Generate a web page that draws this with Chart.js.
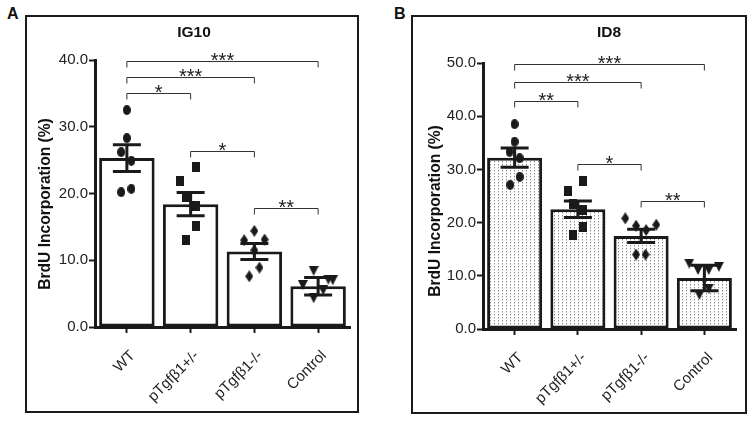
<!DOCTYPE html>
<html>
<head>
<meta charset="utf-8">
<script src="https://cdn.jsdelivr.net/npm/chart.js@4.4.1/dist/chart.umd.min.js"></script>
<style>
  body { margin: 0; background: #fff; width: 754px; height: 421px; position: relative; overflow: hidden; font-family: "Liberation Sans", Arial, sans-serif; }
  canvas { position: absolute; }
  .frame { position: absolute; border: 2px solid #1a1a1a; box-sizing: border-box; pointer-events: none; }
  .letter { position: absolute; font-weight: bold; font-size: 16px; line-height: 16px; color: #111; }
</style>
</head>
<body>
<div class="letter" style="left:7px;top:6px">A</div>
<div class="letter" style="left:394px;top:6px">B</div>
<canvas id="chartA" width="332" height="396" style="left:26px;top:16px"></canvas>
<canvas id="chartB" width="334" height="397" style="left:412px;top:16px"></canvas>
<div class="frame" style="left:25px;top:15px;width:334px;height:398px"></div>
<div class="frame" style="left:411px;top:15px;width:336px;height:399px"></div>
<script>
const categories = ["WT", "pTgfβ1+/-", "pTgfβ1-/-", "Control"];

// ---- IG10 (panel A) ----
const meanIG10 = [25.3, 18.4, 11.3, 6.1];
const semIG10 = [2.0, 1.75, 1.2, 1.3];
const wtIG10 = [32.5, 28.3, 26.2, 24.9, 20.2, 20.7];
const hetIG10 = [23.9, 21.9, 19.5, 18.1, 15.1, 13.1];
const koIG10 = [14.4, 13.0, 13.1, 11.5, 8.9, 7.6];
const ctrlIG10 = [8.4, 7.1, 7.0, 6.3, 4.3, 5.5];
const jitterIG10 = [
  [0, 0, -0.09, 0.07, -0.09, 0.07],
  [0.08, -0.16, -0.08, 0.08, 0.08, -0.08],
  [0, -0.16, 0.16, 0, 0.08, -0.08],
  [-0.07, 0.16, 0.23, -0.24, -0.07, 0.08]
];
const sigPairsIG10 = [[0, 3], [0, 2], [0, 1], [1, 2], [2, 3]];
const sigHeightIG10 = [39.9, 37.4, 35.0, 26.3, 17.9];
const sigLabelIG10 = ["***", "***", "*", "*", "**"];

// ---- ID8 (panel B) ----
const meanID8 = [32.2, 22.5, 17.5, 9.6];
const semID8 = [1.8, 1.55, 1.25, 2.4];
const wtID8 = [38.5, 35.2, 33.3, 32.1, 28.6, 27.1];
const hetID8 = [27.8, 26.0, 23.5, 22.4, 19.2, 17.7];
const koID8 = [20.8, 19.4, 18.6, 19.6, 14.0, 14.0];
const ctrlID8 = [12.3, 11.1, 11.1, 11.7, 6.4, 7.6];
const jitterID8 = [
  [0, 0, -0.08, 0.08, 0.08, -0.07],
  [0.08, -0.16, -0.08, 0.08, 0.08, -0.08],
  [-0.25, -0.08, 0.08, 0.24, -0.08, 0.07],
  [-0.24, -0.1, 0.07, 0.23, -0.08, 0.07]
];
const sigPairsID8 = [[0, 3], [0, 2], [0, 1], [1, 2], [2, 3]];
const sigHeightID8 = [49.8, 46.5, 42.9, 31.1, 24.1];
const sigLabelID8 = ["***", "***", "**", "*", "**"];

const yTitle = "BrdU Incorporation (%)";
const ink = "#1a1a1a";
const fontFamily = "'Liberation Sans', Arial, sans-serif";

// small canvases used as point markers
function makeMarker(shape, w, h) {
  const c = document.createElement("canvas");
  c.width = w; c.height = h;
  const g = c.getContext("2d");
  g.fillStyle = ink;
  g.beginPath();
  if (shape === "circle") {
    g.ellipse(w / 2, h / 2, w / 2, h / 2, 0, 0, Math.PI * 2);
  } else if (shape === "square") {
    g.rect(0, 0, w, h);
  } else if (shape === "diamond") {
    g.moveTo(w / 2, 0); g.lineTo(w, h / 2); g.lineTo(w / 2, h); g.lineTo(0, h / 2);
  } else {
    g.moveTo(0, 0); g.lineTo(w, 0); g.lineTo(w / 2, h);
  }
  g.closePath();
  g.fill();
  return c;
}
const markers = [
  makeMarker("circle", 8, 10),
  makeMarker("square", 8, 10),
  makeMarker("diamond", 8, 12),
  makeMarker("triangle", 10, 10)
];

// dotted fill used by the ID8 bars
function dotPattern() {
  const c = document.createElement("canvas");
  c.width = 4; c.height = 3;
  const g = c.getContext("2d");
  g.fillStyle = "#fff";
  g.fillRect(0, 0, 4, 3);
  g.fillStyle = "#8a8a8a";
  g.fillRect(2, 1, 1, 1);
  g.fillStyle = "#cfcfcf";
  g.fillRect(2, 2, 1, 1);
  return g.createPattern(c, "repeat");
}

// error bars, brackets, panel title and y title
function overlay(mean, sem, pairs, heights, labels, o) {
  return {
    id: "overlay",
    afterDatasetsDraw(chart) {
      const ctx = chart.ctx;
      const x = chart.scales.x, y = chart.scales.y;
      ctx.save();
      ctx.strokeStyle = ink;
      ctx.lineWidth = 3;
      mean.forEach((m, i) => {
        const cx = x.getPixelForValue(i);
        const top = y.getPixelForValue(m + sem[i]);
        const bot = y.getPixelForValue(m - sem[i]);
        ctx.beginPath();
        ctx.moveTo(cx, top); ctx.lineTo(cx, bot);
        ctx.moveTo(cx - 14, top); ctx.lineTo(cx + 14, top);
        ctx.moveTo(cx - 14, bot); ctx.lineTo(cx + 14, bot);
        ctx.stroke();
      });
      ctx.lineWidth = 1;
      ctx.strokeStyle = "#333";
      ctx.fillStyle = "#222";
      ctx.font = "20px " + fontFamily;
      ctx.textAlign = "center";
      ctx.textBaseline = "alphabetic";
      pairs.forEach((p, k) => {
        const x1 = x.getPixelForValue(p[0]);
        const x2 = x.getPixelForValue(p[1]);
        const yy = Math.round(y.getPixelForValue(heights[k])) + 0.5;
        ctx.beginPath();
        ctx.moveTo(x1, yy + 6); ctx.lineTo(x1, yy);
        ctx.lineTo(x2, yy); ctx.lineTo(x2, yy + 6);
        ctx.stroke();
        ctx.fillText(labels[k], (x1 + x2) / 2, yy + 5);
      });
      ctx.fillStyle = "#111";
      ctx.textBaseline = "middle";
      ctx.font = "bold 15.5px " + fontFamily;
      ctx.fillText(o.title, o.titleX, 17);
      ctx.font = "bold 15.6px " + fontFamily;
      ctx.translate(o.yTitleX, o.yTitleY);
      ctx.rotate(-Math.PI / 2);
      ctx.fillText(yTitle, 0, 0);
      ctx.restore();
    }
  };
}

function buildChart(id, o) {
  const pointSets = [o.wt, o.het, o.ko, o.ctrl].map((vals, i) => ({
    type: "scatter",
    xAxisID: "xj",
    data: vals.map((v, k) => ({ x: i + o.jitter[i][k], y: v })),
    pointStyle: markers[i],
    pointRadius: 5,
    order: 1
  }));
  return new Chart(document.getElementById(id), {
    type: "bar",
    data: {
      labels: categories,
      datasets: [{
        data: o.mean,
        backgroundColor: o.fill,
        borderColor: ink,
        borderWidth: 3,
        borderSkipped: false,
        grouped: false,
        barPercentage: 0.87,
        categoryPercentage: 1.0,
        order: 2
      }, ...pointSets]
    },
    options: {
      responsive: false,
      animation: false,
      layout: { padding: o.padding },
      plugins: { legend: { display: false }, tooltip: { enabled: false } },
      scales: {
        x: {
          type: "category",
          offset: true,
          grid: { offset: false, drawOnChartArea: false, tickLength: 6, tickWidth: 2, tickColor: ink },
          border: { color: ink, width: 3 },
          ticks: {
            minRotation: 45, maxRotation: 45, padding: 14, labelOffset: 6,
            color: "#222", font: { family: fontFamily, size: 15 }
          },
          afterFit: s => { s.height = o.xHeight; }
        },
        xj: { type: "linear", display: false, offset: false, min: -0.5, max: 3.5 },
        y: {
          min: 0, max: o.yMax,
          grid: { drawOnChartArea: false, tickLength: 6, tickWidth: 2, tickColor: ink },
          border: { color: ink, width: 3 },
          ticks: {
            stepSize: 10, padding: 1, color: "#222",
            font: { family: fontFamily, size: 15 },
            callback: v => Number(v).toFixed(1)
          },
          afterFit: s => { s.width = o.yWidth; }
        }
      }
    },
    plugins: [overlay(o.mean, o.sem, o.pairs, o.heights, o.labels, o)]
  });
}

buildChart("chartA", {
  mean: meanIG10, sem: semIG10, wt: wtIG10, het: hetIG10, ko: koIG10, ctrl: ctrlIG10,
  jitter: jitterIG10, pairs: sigPairsIG10, heights: sigHeightIG10, labels: sigLabelIG10,
  fill: "#ffffff", yMax: 40, title: "IG10", titleX: 168, yTitleX: 20, yTitleY: 188,
  padding: { left: 4, right: 8, top: 44, bottom: 0 }, yWidth: 65, xHeight: 85
});

buildChart("chartB", {
  mean: meanID8, sem: semID8, wt: wtID8, het: hetID8, ko: koID8, ctrl: ctrlID8,
  jitter: jitterID8, pairs: sigPairsID8, heights: sigHeightID8, labels: sigLabelID8,
  fill: dotPattern(), yMax: 50, title: "ID8", titleX: 197, yTitleX: 24, yTitleY: 195,
  padding: { left: 4, right: 10, top: 47, bottom: 0 }, yWidth: 67, xHeight: 84
});
</script>
</body>
</html>
